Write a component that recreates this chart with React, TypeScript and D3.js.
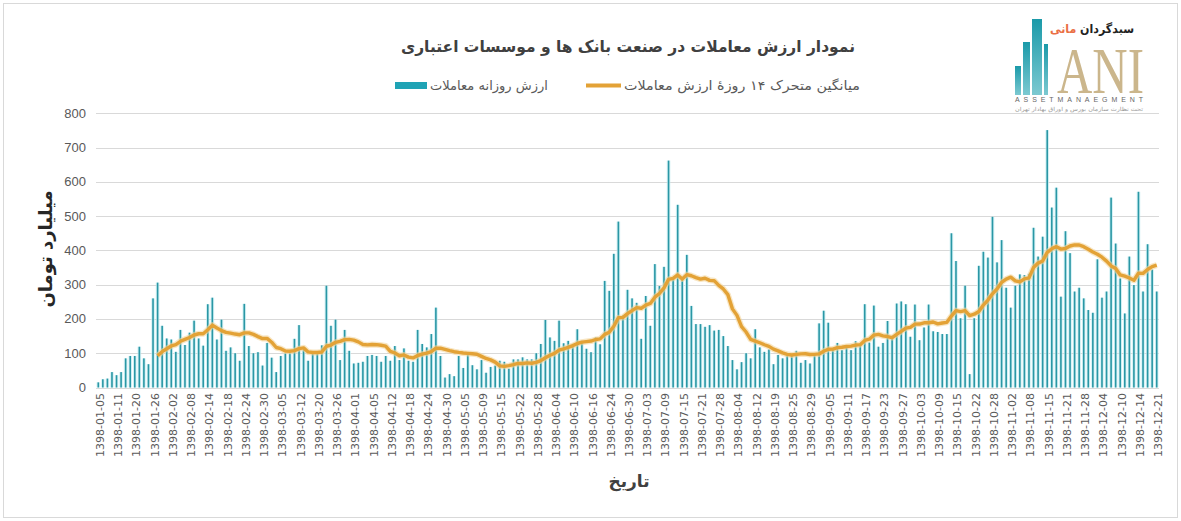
import React from 'react';
import * as d3 from 'd3';

const W = 1181;
const H = 521;

// Daily trading value (billion toman), one entry per trading day of 1398
const dailyValues: number[] = [
  15, 24, 26, 45, 36, 45, 85, 92, 92, 119,
  85, 68, 260, 306, 180, 143, 140, 104, 168, 124,
  160, 195, 143, 122, 243, 262, 140, 198, 107, 117,
  100, 78, 244, 121, 100, 103, 64, 130, 87, 45,
  92, 100, 100, 142, 182, 109, 78, 100, 100, 123,
  297, 180, 198, 80, 168, 107, 70, 72, 75, 92,
  95, 92, 75, 92, 78, 121, 80, 114, 78, 75,
  168, 127, 117, 156, 233, 92, 29, 39, 33, 92,
  57, 97, 65, 53, 80, 43, 60, 64, 78, 75,
  55, 82, 82, 88, 82, 82, 100, 127, 197, 146,
  136, 195, 129, 136, 127, 170, 136, 113, 103, 146,
  126, 311, 282, 390, 484, 210, 285, 260, 247, 142,
  267, 180, 360, 296, 352, 662, 320, 533, 320, 387,
  238, 185, 185, 177, 182, 166, 168, 150, 121, 80,
  53, 74, 100, 85, 170, 117, 104, 111, 68, 95,
  85, 92, 92, 107, 72, 80, 70, 92, 187, 224,
  189, 113, 130, 109, 117, 109, 135, 123, 243, 131,
  239, 119, 130, 194, 146, 245, 251, 243, 148, 242,
  138, 175, 242, 164, 162, 156, 156, 450, 369, 202,
  297, 39, 202, 355, 396, 379, 498, 365, 430, 291,
  233, 297, 330, 328, 332, 466, 382, 440, 751, 525,
  583, 265, 456, 392, 280, 291, 260, 226, 218, 374,
  262, 280, 554, 420, 318, 216, 382, 299, 571, 280,
  418, 344, 280,
];

// Date labels shown on the category axis (every 4th trading day)
const tickLabels: string[] = [
  '1398-01-05', '1398-01-11', '1398-01-20', '1398-01-26', '1398-02-02', '1398-02-08',
  '1398-02-14', '1398-02-18', '1398-02-24', '1398-02-30', '1398-03-05', '1398-03-12',
  '1398-03-20', '1398-03-26', '1398-04-01', '1398-04-05', '1398-04-12', '1398-04-18',
  '1398-04-24', '1398-04-30', '1398-05-05', '1398-05-09', '1398-05-15', '1398-05-22',
  '1398-05-28', '1398-06-04', '1398-06-10', '1398-06-16', '1398-06-24', '1398-06-30',
  '1398-07-03', '1398-07-09', '1398-07-15', '1398-07-21', '1398-07-28', '1398-08-04',
  '1398-08-12', '1398-08-19', '1398-08-25', '1398-08-29', '1398-09-05', '1398-09-11',
  '1398-09-17', '1398-09-23', '1398-09-27', '1398-10-03', '1398-10-09', '1398-10-15',
  '1398-10-22', '1398-10-28', '1398-11-02', '1398-11-08', '1398-11-15', '1398-11-21',
  '1398-11-28', '1398-12-04', '1398-12-10', '1398-12-14', '1398-12-21',
];
const TICK_STEP = 4;

const yTicks: number[] = [0, 100, 200, 300, 400, 500, 600, 700, 800];
const MA_WINDOW = 14;

const titleText = 'نمودار ارزش معاملات در صنعت بانک ها و موسسات اعتباری';
const legendBarsText = 'ارزش روزانه معاملات';
const legendLineText = 'میانگین متحرک ۱۴ روزهٔ ارزش معاملات';
const yTitleText = 'میلیارد تومان';
const xTitleText = 'تاریخ';

const FA = '"DejaVu Sans", sans-serif';
const NUM = '"Liberation Sans", Arial, sans-serif';
const LBL = '"DejaVu Sans", sans-serif';

const BAR_CORE = '#2a97a5';
const BAR_HALO = '#c4ecf1';
const LINE_COLOR = '#e3a236';
const LINE_HALO = '#f4d69c';

function Logo() {
  return (
    <g>
      <defs>
        <linearGradient id="logoTeal" x1="0" y1="0" x2="0" y2="1">
          <stop offset="0" stopColor="#1b9aa9" />
          <stop offset="1" stopColor="#7cc9d1" />
        </linearGradient>
      </defs>
      <rect x={1015} y={66} width={6} height={29} fill="url(#logoTeal)" />
      <rect x={1023} y={42} width={7} height={53} fill="url(#logoTeal)" />
      <rect x={1032} y={19} width={10} height={76} fill="url(#logoTeal)" />
      <rect x={1044} y={44} width={4} height={51} fill="url(#logoTeal)" />
      <text x={1134} y={33} textAnchor="end" fontFamily={FA} fontSize={12} fontWeight="bold"
        textLength={84} lengthAdjust="spacingAndGlyphs">
        <tspan fill="#222">سبدگردان </tspan>
        <tspan fill="#ea6f45">مانی</tspan>
      </text>
      <text x={1057} y={93} fontFamily='"Liberation Serif", serif' fontSize={66}
        fill="#cbb68c" textLength={87} lengthAdjust="spacingAndGlyphs">ANI</text>
      <text x={1015} y={102} fontFamily={NUM} fontSize={7} fill="#666"
        textLength={128} lengthAdjust="spacing">ASSETMANAEGMENT</text>
      <text x={1143} y={111} textAnchor="end" fontFamily={FA} fontSize={5.5} fill="#999"
        textLength={128} lengthAdjust="spacingAndGlyphs">تحت نظارت سازمان بورس و اوراق بهادار تهران</text>
    </g>
  );
}

export default function App() {
  const plot = { left: 96, right: 1159, top: 113.3, bottom: 387.5 };
  const n = dailyValues.length;

  const x = d3.scaleBand<number>().domain(d3.range(n)).range([plot.left, plot.right]).padding(0);
  const y = d3.scaleLinear().domain([0, 800]).range([plot.bottom, plot.top]);
  const cx = (i: number) => (x(i) as number) + x.bandwidth() / 2;

  // 14-day moving average of the daily values
  const movingAvg: [number, number][] = [];
  for (let i = MA_WINDOW - 1; i < n; i++) {
    movingAvg.push([i, d3.mean(dailyValues.slice(i - MA_WINDOW + 1, i + 1)) as number]);
  }
  const linePath = d3.line<[number, number]>()
    .x((d) => cx(d[0]))
    .y((d) => y(d[1]))
    .curve(d3.curveLinear)(movingAvg) as string;

  return (
    <svg width={W} height={H} viewBox={`0 0 ${W} ${H}`}
      style={{ position: 'absolute', left: 0, top: 0, background: '#fff' }}>
      <rect x={0} y={0} width={W} height={H} fill="#fff" />
      <rect x={3.5} y={3.5} width={W - 7} height={H - 7} fill="none" stroke="#d9d9d9" />

      {/* title */}
      <text x={628} y={52} textAnchor="middle" fontFamily={FA} fontSize={16} fontWeight="bold" fill="#404040"
        textLength={454} lengthAdjust="spacingAndGlyphs">
        {titleText}
      </text>

      {/* legend */}
      <g fontFamily={FA} fontSize={13} fill="#595959">
        <line x1={586} x2={621} y1={85.5} y2={85.5} stroke={LINE_COLOR} strokeWidth={4} />
        <text x={860} y={90} textAnchor="end" textLength={236} lengthAdjust="spacingAndGlyphs">{legendLineText}</text>
        <rect x={395} y={82} width={32} height={7} fill="#1fa3b5" />
        <text x={548} y={90} textAnchor="end" textLength={118} lengthAdjust="spacingAndGlyphs">{legendBarsText}</text>
      </g>

      <Logo />

      {/* gridlines */}
      {yTicks.map((t) => (
        <line key={t} x1={plot.left} x2={plot.right} y1={Math.round(y(t)) + 0.5} y2={Math.round(y(t)) + 0.5}
          stroke="#d9d9d9" strokeWidth={1} />
      ))}

      {/* y tick labels */}
      {yTicks.map((t) => (
        <text key={t} x={86} y={y(t)} textAnchor="end" dominantBaseline="central"
          fontFamily={NUM} fontSize={13} fill="#595959">{t}</text>
      ))}

      {/* bars */}
      <g>
        {dailyValues.map((v, i) => (
          <rect key={`h${i}`} x={cx(i) - 1.8} y={y(v)} width={3.6} height={y(0) - y(v)} fill={BAR_HALO} opacity={0.75} />
        ))}
        {dailyValues.map((v, i) => (
          <rect key={`b${i}`} x={cx(i) - 0.8} y={y(v)} width={1.6} height={y(0) - y(v)} fill={BAR_CORE} />
        ))}
      </g>

      {/* moving average */}
      <path d={linePath} fill="none" stroke={LINE_HALO} strokeWidth={6} strokeLinejoin="round" opacity={0.6} />
      <path d={linePath} fill="none" stroke={LINE_COLOR} strokeWidth={3.4} strokeLinejoin="round" />

      {/* x tick labels */}
      {tickLabels.map((lbl, k) => {
        const px = cx(k * TICK_STEP) + 2;
        return (
          <text key={lbl} transform={`translate(${px},393) rotate(-90)`} textAnchor="end"
            dominantBaseline="central" fontFamily={LBL} fontSize={11} fill="#595959">{lbl}</text>
        );
      })}

      {/* axis titles */}
      <text transform="translate(52,249) rotate(-90)" textAnchor="middle" fontFamily={FA}
        fontSize={18} fontWeight="bold" fill="#262626">{yTitleText}</text>
      <text x={629} y={487} textAnchor="middle" fontFamily={FA} fontSize={17} fontWeight="bold" fill="#404040">
        {xTitleText}
      </text>
    </svg>
  );
}
